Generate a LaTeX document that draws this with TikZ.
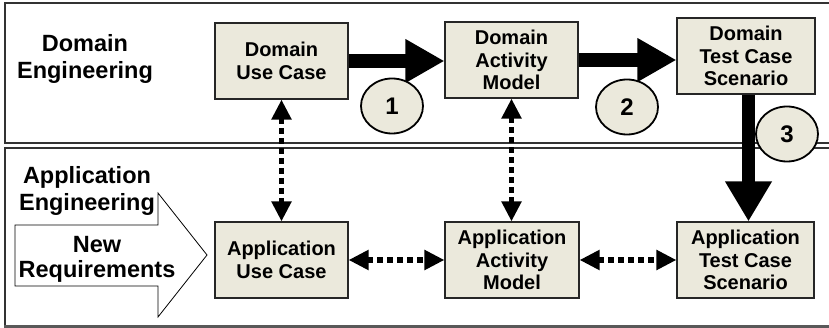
\documentclass[tikz,border=0pt]{standalone}
\usepackage{fontspec}
\setmainfont{Liberation Sans}
\usetikzlibrary{arrows.meta,shapes.geometric}
\definecolor{boxfill}{HTML}{EBE9DC}
\definecolor{framecol}{HTML}{333333}
\begin{document}
\begin{tikzpicture}[x=1pt,y=-1pt,
  box/.style={draw=black!85, line width=1.1pt, fill=boxfill, minimum height=76pt,
    inner sep=0pt, align=center, font=\fontsize{20}{22.5}\selectfont\bfseries},
  lbl/.style={inner sep=0pt, align=center, font=\fontsize{23.5}{27.5}\selectfont\bfseries},
  num/.style={ellipse, draw=black, line width=1.8pt, fill=boxfill, minimum width=62pt,
    minimum height=55pt, inner sep=0pt, font=\fontsize{24}{26}\selectfont\bfseries},
  bigarrow/.style={line width=14pt, -{Triangle[length=39pt,width=41pt]}},
  dotarrow/.style={line width=5.5pt, dash pattern=on 5.5pt off 4.5pt,
    {Triangle[length=20pt,width=19pt]}-{Triangle[length=20pt,width=19pt]}},
  frame/.style={draw=framecol, line width=1.2pt}
]
\useasboundingbox (0,0) rectangle (829,328);
\clip (0,0) rectangle (829,328);
\fill[white] (0,0) rectangle (829,328);
% frames
\draw[frame] (5,3) rectangle (840,143);
\draw[frame] (5,148) rectangle (840,326);
\draw[draw=black!65, line width=3pt] (4,326) -- (840,326);
% side labels
\node[lbl] (de) at (85,59) {Domain\\Engineering};
\node[lbl] (ae) at (87,191) {Application\\Engineering};
% hollow arrow
\draw[fill=white, line width=0.8pt] (15,225) -- (158,225) -- (158,193) -- (207,255)
  -- (158,317) -- (158,286) -- (15,286) -- cycle;
\node[lbl, font=\fontsize{23.5}{25}\selectfont\bfseries] (nr) at (97,259) {New\\Requirements};
% boxes
\node[box, minimum width=133pt] (duc) at (281.5,61) {Domain\\Use Case};
\node[box, minimum width=133pt] (dam) at (511.5,60) {Domain\\Activity\\Model};
\node[box, minimum width=138pt] (dtc) at (746,56) {Domain\\Test Case\\Scenario};
\node[box, minimum width=133pt] (auc) at (281.5,260) {Application\\Use Case};
\node[box, minimum width=134pt] (aam) at (512,260) {Application\\Activity\\Model};
\node[box, minimum width=137pt] (atc) at (745.5,260) {Application\\Test Case\\Scenario};
% thick arrows
\draw[bigarrow] (duc.east) -- (duc.east -| dam.west);
\draw[bigarrow] (dam.east) -- (dam.east -| dtc.west);
\draw[bigarrow, line width=13pt, -{Triangle[length=40pt,width=44pt]}]
  ([xshift=2.5pt]dtc.south) -- ([xshift=2.5pt]dtc.south |- atc.north);
% dotted arrows
\draw[dotarrow] (duc.south) -- (auc.north);
\draw[dotarrow] (dam.south) -- (dam.south |- aam.north);
\draw[dotarrow] (auc.east) -- (aam.west);
\draw[dotarrow] (aam.east) -- (atc.west);
% numbers
\node[num] (n1) at (392,106) {1};
\node[num] (n2) at (627,107) {2};
\node[num] (n3) at (787,134) {3};
\end{tikzpicture}
\end{document}
